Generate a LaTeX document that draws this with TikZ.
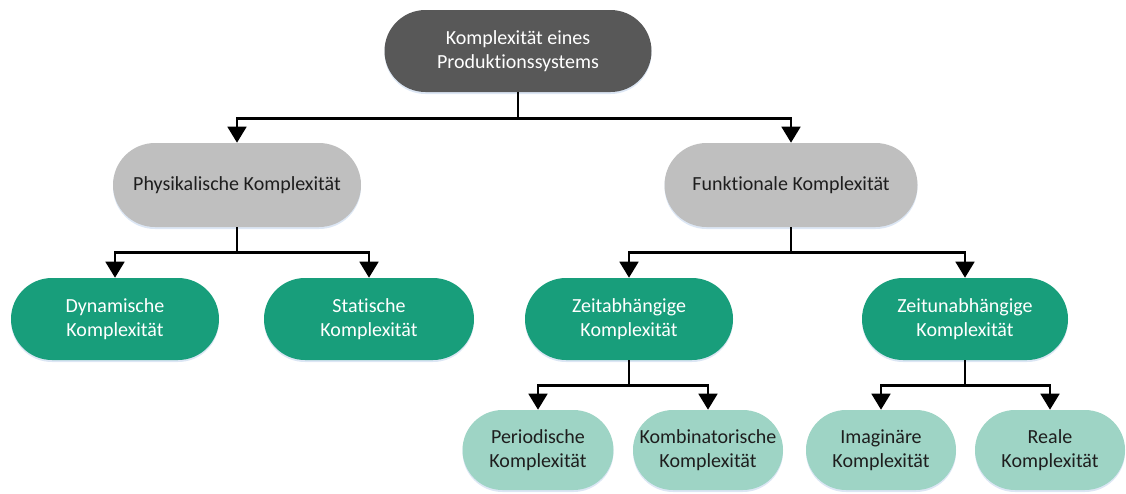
\documentclass[tikz,border=0pt]{standalone}
\usepackage{fontspec}
\setmainfont{Carlito}[Ligatures=NoCommon]
\usetikzlibrary{shapes.misc,arrows.meta,shadows}
\definecolor{topgray}{RGB}{88,88,88}
\definecolor{midgray}{RGB}{191,191,191}
\definecolor{teal}{RGB}{24,158,123}
\definecolor{lightteal}{RGB}{158,212,197}
\definecolor{glow}{RGB}{205,220,240}
\definecolor{darktext}{RGB}{30,30,30}
\tikzset{
  pill/.style={rounded rectangle, inner sep=0pt, align=center,
    font=\fontsize{15}{18}\selectfont,
    drop shadow={shadow xshift=0pt, shadow yshift=-1.5pt, fill=glow, opacity=0.7}},
  rootbox/.style={pill, fill=topgray, text=white},
  levelone/.style={pill, fill=midgray, text=darktext},
  leveltwo/.style={pill, fill=teal, text=white},
  levelthree/.style={pill, fill=lightteal, text=darktext},
  arr/.style={line width=2pt, -{Triangle[width=14pt,length=12pt]}},
}
\begin{document}
\begin{tikzpicture}[x=0.75pt,y=-0.75pt]
\useasboundingbox (0,0) rectangle (1126,493);

% nodes
\node[rootbox, minimum width=267*0.75pt, minimum height=82*0.75pt] (root) at (518,51)
  {Komplexität eines\\Produktionssystems};
\node[levelone, minimum width=248*0.75pt, minimum height=84*0.75pt] (phys) at (237,185)
  {Physikalische Komplexität};
\node[levelone, minimum width=253*0.75pt, minimum height=84*0.75pt] (funk) at (791,185)
  {Funktionale Komplexität};
\node[leveltwo, minimum width=208*0.75pt, minimum height=82*0.75pt] (dyn) at (115,319)
  {Dynamische\\Komplexität};
\node[leveltwo, minimum width=210*0.75pt, minimum height=82*0.75pt] (stat) at (369,319)
  {Statische\\Komplexität};
\node[leveltwo, minimum width=208*0.75pt, minimum height=82*0.75pt] (zab) at (629,319)
  {Zeitabhängige\\Komplexität};
\node[leveltwo, minimum width=206*0.75pt, minimum height=82*0.75pt] (zun) at (965,319)
  {Zeitunabhängige\\Komplexität};
\node[levelthree, minimum width=151*0.75pt, minimum height=80*0.75pt] (per) at (538,450)
  {Periodische\\Komplexität};
\node[levelthree, minimum width=150*0.75pt, minimum height=80*0.75pt] (kom) at (708,450)
  {Kombinatorische\\Komplexität};
\node[levelthree, minimum width=150*0.75pt, minimum height=80*0.75pt] (ima) at (881,450)
  {Imaginäre\\Komplexität};
\node[levelthree, minimum width=150*0.75pt, minimum height=80*0.75pt] (rea) at (1050,450)
  {Reale\\Komplexität};

% connectors
\draw[arr] (root.south) -- ++(0,26) -| (phys.north);
\draw[arr] (root.south) -- ++(0,26) -| (funk.north);
\draw[arr] (phys.south) -- ++(0,25) -| (dyn.north);
\draw[arr] (phys.south) -- ++(0,25) -| (stat.north);
\draw[arr] (funk.south) -- ++(0,25) -| (zab.north);
\draw[arr] (funk.south) -- ++(0,25) -| (zun.north);
\draw[arr] (zab.south) -- ++(0,25) -| (per.north);
\draw[arr] (zab.south) -- ++(0,25) -| (kom.north);
\draw[arr] (zun.south) -- ++(0,25) -| (ima.north);
\draw[arr] (zun.south) -- ++(0,25) -| (rea.north);
\end{tikzpicture}
\end{document}
